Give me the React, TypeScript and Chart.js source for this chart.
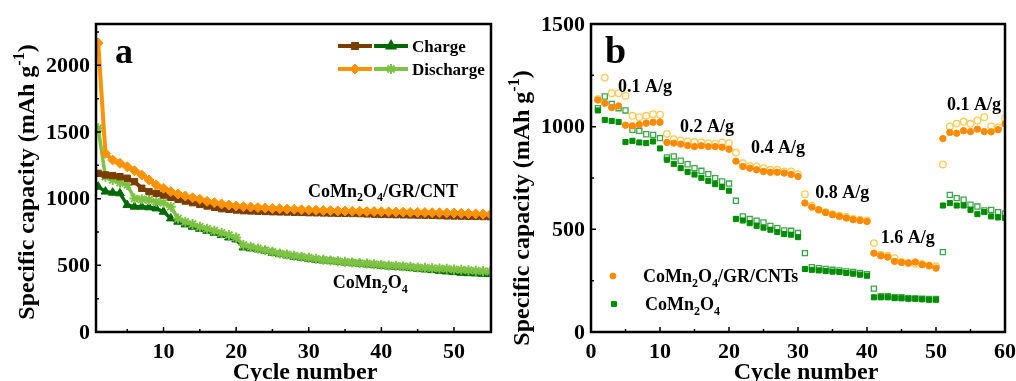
import { useEffect, useRef } from 'react';
import { Chart, registerables } from 'chart.js';
import { drawPoint } from 'chart.js/helpers';

Chart.register(...registerables);

const FONT = '"Liberation Serif", "Times New Roman", serif';

// ---------------- Panel a: cycling ----------------
const cyclesA = Array.from({ length: 55 }, (_, i) => i + 1);
const gcDischargeA = [2168, 1340, 1290, 1265, 1240, 1210, 1178, 1140, 1103, 1078, 1053, 1035, 1020, 1007, 995, 980, 970, 960, 952, 945, 940, 937, 933, 930, 927, 925, 922, 920, 917, 915, 913, 911, 910, 908, 907, 906, 905, 904, 903, 902, 901, 900, 899, 898, 897, 896, 895, 894, 893, 892, 890, 888, 886, 884, 882];
const gcChargeA = [1190, 1178, 1173, 1165, 1153, 1128, 1078, 1053, 1040, 1027, 1010, 995, 982, 970, 957, 945, 935, 925, 920, 915, 910, 908, 906, 904, 902, 901, 900, 898, 897, 895, 894, 893, 892, 891, 890, 889, 888, 886, 884, 882, 881, 880, 879, 878, 877, 876, 875, 873, 871, 870, 869, 868, 867, 866, 865];
const cmDischargeA = [1529, 1165, 1140, 1120, 1103, 1002, 995, 990, 977, 970, 940, 852, 827, 810, 790, 774, 759, 744, 727, 709, 652, 639, 627, 614, 601, 589, 581, 571, 564, 556, 549, 541, 536, 531, 526, 521, 516, 514, 509, 504, 499, 496, 494, 489, 484, 481, 479, 476, 474, 469, 466, 464, 459, 456, 454];
const cmChargeA = [1090, 1053, 1045, 1040, 952, 940, 940, 935, 927, 902, 852, 827, 807, 790, 774, 759, 744, 727, 709, 694, 634, 627, 619, 609, 594, 584, 574, 564, 556, 549, 541, 536, 531, 526, 521, 516, 511, 506, 501, 496, 491, 489, 484, 479, 474, 469, 464, 459, 454, 449, 444, 441, 439, 436, 434];
const xTicksA = [10, 20, 30, 40, 50];
const xMinorA = [5, 15, 25, 35, 45];
const yTicksA = [0, 500, 1000, 1500, 2000];
const yMinorA = [250, 750, 1250, 1750, 2250];

// ---------------- Panel b: rate ----------------
const cyclesB = Array.from({ length: 60 }, (_, i) => i + 1);
const gcFilledB = [1130, 1114, 1093, 1101, 1007, 1004, 1010, 1017, 1022, 1022, 923, 920, 915, 908, 903, 907, 903, 903, 900, 890, 832, 806, 798, 790, 782, 778, 778, 774, 767, 757, 628, 608, 595, 582, 571, 563, 555, 547, 543, 538, 384, 371, 365, 344, 339, 336, 341, 328, 323, 311, 942, 972, 968, 980, 976, 988, 976, 975, 985, 1014];
const gcHollowB = [1135, 1239, 1163, 1163, 1150, 1053, 1046, 1053, 1061, 1058, 965, 939, 933, 928, 925, 923, 920, 917, 923, 920, 874, 822, 809, 806, 798, 790, 790, 782, 782, 769, 671, 615, 595, 584, 574, 566, 560, 550, 547, 543, 433, 376, 371, 360, 341, 336, 332, 331, 324, 320, 816, 1001, 1015, 1025, 1014, 1030, 1046, 1001, 996, 1040];
const cmFilledB = [1079, 1033, 1028, 1023, 925, 931, 923, 920, 928, 894, 839, 819, 798, 780, 767, 751, 736, 720, 706, 688, 551, 543, 530, 517, 508, 498, 487, 477, 474, 462, 307, 303, 300, 297, 294, 292, 287, 284, 279, 274, 169, 169, 169, 165, 164, 162, 162, 159, 157, 157, 616, 628, 616, 616, 595, 574, 584, 563, 558, 555];
const cmHollowB = [1090, 1147, 1111, 1090, 1079, 985, 980, 963, 960, 944, 850, 855, 834, 817, 798, 785, 769, 749, 733, 723, 639, 563, 550, 542, 534, 517, 506, 495, 493, 482, 384, 316, 311, 307, 303, 300, 295, 292, 287, 282, 211, 174, 174, 169, 169, 165, 164, 162, 161, 161, 389, 668, 652, 644, 620, 611, 592, 595, 584, 576];
const xTicksB = [0, 10, 20, 30, 40, 50, 60];
const xMinorB = [5, 15, 25, 35, 45, 55];
const yTicksB = [0, 500, 1000, 1500];
const yMinorB = [250, 750, 1250];
const rateLabels = ['0.1 A/g', '0.2 A/g', '0.4 A/g', '0.8 A/g', '1.6 A/g', '0.1 A/g'];
const rateLabelX = [3.9, 12.9, 23.2, 32.5, 42.0, 51.6];
const rateLabelY = [1169, 974, 872, 652, 433, 1081];

type Part = [string, 'n' | 'sub' | 'sup'];
const Y_TITLE: Part[] = [['Specific capacity (mAh g', 'n'], ['-1', 'sup'], [')', 'n']];
const GC_NAME: Part[] = [['CoMn', 'n'], ['2', 'sub'], ['O', 'n'], ['4', 'sub'], ['/GR/CNT', 'n']];
const GC_NAME_B: Part[] = [['CoMn', 'n'], ['2', 'sub'], ['O', 'n'], ['4', 'sub'], ['/GR/CNTs', 'n']];
const CM_NAME: Part[] = [['CoMn', 'n'], ['2', 'sub'], ['O', 'n'], ['4', 'sub']];

const C = {
  brown: '#7A3D00',
  orange: '#FF9200',
  dkgreen: '#006A00',
  ltgreen: '#7DC243',
  bOrange: '#FF8A00',
  bOrangeLight: '#FFCB55',
  bGreen: '#008C00',
  bGreenLight: '#3DA64A',
};

function drawRich(ctx: CanvasRenderingContext2D, parts: Part[], x: number, y: number, size: number, align: 'left' | 'center' = 'left') {
  const sizes = parts.map(([, m]) => (m === 'n' ? size : Math.round(size * 0.68)));
  let total = 0;
  parts.forEach(([t], i) => {
    ctx.font = `bold ${sizes[i]}px ${FONT}`;
    total += ctx.measureText(t).width;
  });
  let cx = align === 'center' ? x - total / 2 : x;
  ctx.textAlign = 'left';
  ctx.textBaseline = 'alphabetic';
  parts.forEach(([t, m], i) => {
    ctx.font = `bold ${sizes[i]}px ${FONT}`;
    const dy = m === 'sub' ? size * 0.25 : m === 'sup' ? -size * 0.42 : 0;
    ctx.fillText(t, cx, y + dy);
    cx += ctx.measureText(t).width;
  });
}

function drawFrameAndAxes(chart: any, xT: number[], xm: number[], yT: number[], ym: number[], yTitleCenter: number, xTitleCenter: number) {
  const ctx: CanvasRenderingContext2D = chart.ctx;
  const { left, right, top, bottom } = chart.chartArea;
  const xs = chart.scales.x;
  const ys = chart.scales.y;
  ctx.save();
  ctx.strokeStyle = '#000';
  ctx.fillStyle = '#000';
  ctx.lineWidth = 1.5;
  ctx.beginPath();
  xT.forEach((v) => { const p = xs.getPixelForValue(v); ctx.moveTo(p, bottom); ctx.lineTo(p, bottom - 5); });
  xm.forEach((v) => { const p = xs.getPixelForValue(v); ctx.moveTo(p, bottom); ctx.lineTo(p, bottom - 3); });
  yT.forEach((v) => { const p = ys.getPixelForValue(v); ctx.moveTo(left, p); ctx.lineTo(left + 5, p); });
  ym.forEach((v) => { const p = ys.getPixelForValue(v); ctx.moveTo(left, p); ctx.lineTo(left + 3, p); });
  ctx.stroke();
  ctx.lineWidth = 2.5;
  ctx.strokeRect(left, top, right - left, bottom - top);

  ctx.font = `bold 22px ${FONT}`;
  ctx.textAlign = 'center';
  ctx.textBaseline = 'alphabetic';
  xT.forEach((v) => ctx.fillText(String(v), xs.getPixelForValue(v), bottom + 26));
  ctx.textAlign = 'right';
  ctx.textBaseline = 'middle';
  yT.forEach((v) => ctx.fillText(String(v), left - 6, ys.getPixelForValue(v) + 1));

  ctx.save();
  ctx.translate(left - 62, yTitleCenter);
  ctx.rotate(-Math.PI / 2);
  drawRich(ctx, Y_TITLE, 0, 0, 24, 'center');
  ctx.restore();
  ctx.font = `bold 24px ${FONT}`;
  ctx.textAlign = 'center';
  ctx.textBaseline = 'alphabetic';
  ctx.fillText('Cycle number', xTitleCenter, bottom + 47);
  ctx.restore();
}

const decoA = {
  id: 'decoA',
  afterDraw(chart: any) {
    const ctx: CanvasRenderingContext2D = chart.ctx;
    const { left, top } = chart.chartArea;
    const xs = chart.scales.x;
    const ys = chart.scales.y;
    drawFrameAndAxes(chart, xTicksA, xMinorA, yTicksA, yMinorA, 182, 305);
    ctx.save();
    ctx.fillStyle = '#000';
    ctx.font = `bold 36px ${FONT}`;
    ctx.textAlign = 'left';
    ctx.textBaseline = 'alphabetic';
    ctx.fillText('a', left + 19, top + 39);
    // legend
    const rows = [
      { y: top + 22, c1: C.brown, s1: 'rect', c2: C.dkgreen, s2: 'triangle', text: 'Charge' },
      { y: top + 45, c1: C.orange, s1: 'rectRot', c2: C.ltgreen, s2: 'star', text: 'Discharge' },
    ];
    rows.forEach((r) => {
      ctx.lineWidth = 4;
      ctx.strokeStyle = r.c1;
      ctx.beginPath(); ctx.moveTo(left + 242, r.y); ctx.lineTo(left + 276, r.y); ctx.stroke();
      ctx.fillStyle = r.c1; ctx.strokeStyle = r.c1; ctx.lineWidth = 1;
      drawPoint(ctx, { pointStyle: r.s1 as any, radius: 5, rotation: 0, borderWidth: 1 }, left + 259, r.y);
      ctx.lineWidth = 4;
      ctx.strokeStyle = r.c2;
      ctx.beginPath(); ctx.moveTo(left + 278, r.y); ctx.lineTo(left + 312, r.y); ctx.stroke();
      ctx.fillStyle = r.c2; ctx.strokeStyle = r.c2; ctx.lineWidth = 2;
      drawPoint(ctx, { pointStyle: r.s2 as any, radius: 5, rotation: 0, borderWidth: 2 }, left + 295, r.y);
      ctx.fillStyle = '#000';
      ctx.font = `bold 17px ${FONT}`;
      ctx.textAlign = 'left';
      ctx.textBaseline = 'alphabetic';
      ctx.fillText(r.text, left + 316, r.y + 6);
    });
    ctx.fillStyle = '#000';
    drawRich(ctx, GC_NAME, xs.getPixelForValue(29.9), ys.getPixelForValue(1013), 18);
    drawRich(ctx, CM_NAME, xs.getPixelForValue(33.3), ys.getPixelForValue(330), 18);
    ctx.restore();
  },
};

const decoB = {
  id: 'decoB',
  afterDraw(chart: any) {
    const ctx: CanvasRenderingContext2D = chart.ctx;
    const { left, top } = chart.chartArea;
    const xs = chart.scales.x;
    const ys = chart.scales.y;
    drawFrameAndAxes(chart, xTicksB, xMinorB, yTicksB, yMinorB, 208, 298);
    ctx.save();
    ctx.fillStyle = '#000';
    ctx.font = `bold 38px ${FONT}`;
    ctx.textAlign = 'left';
    ctx.textBaseline = 'alphabetic';
    ctx.fillText('b', left + 14, top + 39);
    ctx.font = `bold 18px ${FONT}`;
    rateLabels.forEach((t, i) => ctx.fillText(t, xs.getPixelForValue(rateLabelX[i]), ys.getPixelForValue(rateLabelY[i])));
    // legend
    ctx.fillStyle = C.bOrange; ctx.strokeStyle = C.bOrange;
    drawPoint(ctx, { pointStyle: 'circle', radius: 3, rotation: 0, borderWidth: 1 }, left + 22, top + 252);
    ctx.fillStyle = C.bGreen; ctx.strokeStyle = C.bGreen;
    drawPoint(ctx, { pointStyle: 'rect', radius: 3.5, rotation: 0, borderWidth: 1 }, left + 23, top + 280);
    ctx.fillStyle = '#000';
    drawRich(ctx, GC_NAME_B, left + 52, top + 258, 18);
    drawRich(ctx, CM_NAME, left + 54, top + 286, 18);
    ctx.restore();
  },
};

function xy(xs: number[], ys: number[]) {
  return xs.map((x, i) => ({ x, y: ys[i] }));
}

function baseScales(xmin: number, xmax: number, ymin: number, ymax: number, yWidth: number) {
  return {
    x: {
      type: 'linear' as const, min: xmin, max: xmax,
      ticks: { display: false }, grid: { display: false, drawTicks: false }, border: { display: false },
      afterFit: (s: any) => { s.height = 49; },
    },
    y: {
      type: 'linear' as const, min: ymin, max: ymax,
      ticks: { display: false }, grid: { display: false, drawTicks: false }, border: { display: false },
      afterFit: (s: any) => { s.width = yWidth; },
    },
  };
}

function lineDs(label: string, data: number[], color: string, style: string, radius: number, bw: number, pbw: number) {
  return {
    label, data: xy(cyclesA, data), borderColor: color, backgroundColor: color,
    pointStyle: style, pointRadius: radius, borderWidth: bw, pointBorderWidth: pbw,
    pointBackgroundColor: color, pointBorderColor: color, tension: 0,
  };
}

function dotDs(label: string, data: number[], color: string, style: string, radius: number, filled: boolean) {
  return {
    label, data: xy(cyclesB, data), showLine: false,
    pointStyle: style, pointRadius: radius,
    pointBackgroundColor: filled ? color : 'rgba(255,255,255,0)',
    pointBorderColor: color, pointBorderWidth: filled ? 1 : 1.3,
    borderColor: color, backgroundColor: color,
  };
}

export default function App() {
  const refA = useRef<HTMLCanvasElement>(null);
  const refB = useRef<HTMLCanvasElement>(null);
  useEffect(() => {
    const chartA = new Chart(refA.current!, {
      type: 'line',
      data: {
        datasets: [
          lineDs('CoMn2O4/GR/CNT discharge', gcDischargeA, C.orange, 'rectRot', 5, 4, 1),
          lineDs('CoMn2O4/GR/CNT charge', gcChargeA, C.brown, 'rect', 4.5, 4, 1),
          lineDs('CoMn2O4 discharge', cmDischargeA, C.ltgreen, 'star', 5, 3.5, 2),
          lineDs('CoMn2O4 charge', cmChargeA, C.dkgreen, 'triangle', 5, 3.5, 1),
        ] as any,
      },
      options: {
        responsive: false, animation: false, devicePixelRatio: 1,
        layout: { padding: { left: 0, right: 17, top: 24, bottom: 0 } },
        plugins: { legend: { display: false }, tooltip: { enabled: false } },
        scales: baseScales(0.7, 55.1, 0, 2310, 96) as any,
      },
      plugins: [decoA],
    });
    const chartB = new Chart(refB.current!, {
      type: 'line',
      data: {
        datasets: [
          dotDs('CoMn2O4/GR/CNTs filled', gcFilledB, C.bOrange, 'circle', 3.2, true),
          dotDs('CoMn2O4 filled', cmFilledB, C.bGreen, 'rect', 3.6, true),
          dotDs('CoMn2O4/GR/CNTs hollow', gcHollowB, C.bOrangeLight, 'circle', 3.3, false),
          dotDs('CoMn2O4 hollow', cmHollowB, C.bGreenLight, 'rect', 3.6, false),
        ] as any,
      },
      options: {
        responsive: false, animation: false, devicePixelRatio: 1,
        layout: { padding: { left: 0, right: 11, top: 24, bottom: 0 } },
        plugins: { legend: { display: false }, tooltip: { enabled: false } },
        scales: baseScales(0, 60, 0, 1500, 83) as any,
      },
      plugins: [decoB],
    });
    return () => { chartA.destroy(); chartB.destroy(); };
  }, []);
  return (
    <div style={{ position: 'fixed', left: 0, top: 0, width: 1016, height: 381, background: '#fff', overflow: 'hidden' }}>
      <canvas ref={refA} width={508} height={381} style={{ position: 'absolute', left: 0, top: 0 }} />
      <canvas ref={refB} width={508} height={381} style={{ position: 'absolute', left: 508, top: 0 }} />
    </div>
  );
}
